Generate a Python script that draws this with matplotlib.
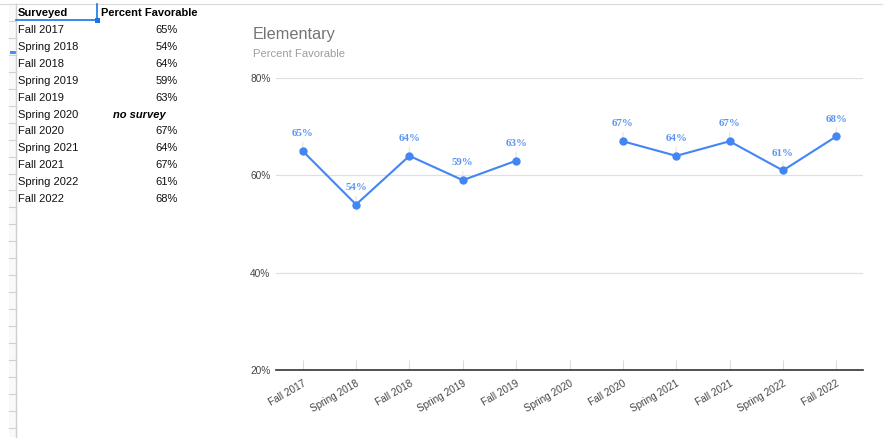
import numpy as np
import matplotlib.pyplot as plt
from matplotlib.lines import Line2D
from matplotlib.patches import Rectangle

# --- data ---
terms = ["Fall 2017", "Spring 2018", "Fall 2018", "Spring 2019", "Fall 2019",
         "Spring 2020", "Fall 2020", "Spring 2021", "Fall 2021", "Spring 2022", "Fall 2022"]
favorable = [0.65, 0.54, 0.64, 0.59, 0.63, np.nan, 0.67, 0.64, 0.67, 0.61, 0.68]
table_values = ["65%", "54%", "64%", "59%", "63%", "no survey", "67%", "64%", "67%", "61%", "68%"]
y_ticks = [0.2, 0.4, 0.6, 0.8]

W, H = 883, 444
fig = plt.figure(figsize=(W / 100, H / 100), dpi=100)
plt.rcParams['font.family'] = ['Liberation Sans', 'DejaVu Sans']


def fx(px):
    return px / W


def fy(py):
    return 1 - py / H


# --- spreadsheet part ---
fig.add_artist(Line2D([fx(0), fx(W)], [fy(4), fy(4)], color="#d9d9d9", lw=0.8))
fig.add_artist(Rectangle((fx(9), fy(437)), fx(7), (437 - 4) / H, color="#f8f9fa", lw=0))
fig.add_artist(Line2D([fx(16), fx(16)], [fy(4), fy(437)], color="#cfcfcf", lw=1))
for k in range(25):
    yy = 21 + 16.95 * k
    if yy > 437:
        break
    fig.add_artist(Line2D([fx(9), fx(16)], [fy(yy), fy(yy)], color="#d0d0d0", lw=0.8))
# selection marks
fig.add_artist(Line2D([fx(16), fx(97)], [fy(20.5), fy(20.5)], color="#1a73e8", lw=1.2))
fig.add_artist(Line2D([fx(97), fx(97)], [fy(4), fy(20.5)], color="#1a73e8", lw=1.2))
fig.add_artist(Rectangle((fx(95), fy(23)), fx(5), 5 / H, color="#1a73e8", lw=0))
fig.add_artist(Rectangle((fx(10), fy(54)), fx(6), 3 / H, color="#4a8af4", lw=0))

fs_table = 8.0
fig.text(fx(18), fy(13), "Surveyed", fontsize=fs_table, fontweight="bold", va="center", color="#000")
fig.text(fx(101), fy(13), "Percent Favorable", fontsize=fs_table, fontweight="bold", va="center", color="#000")
for i, (t, v) in enumerate(zip(terms, table_values)):
    yy = fy(30 + 16.9 * i)
    fig.text(fx(18), yy, t, fontsize=fs_table, va="center", color="#111")
    if v == "no survey":
        fig.text(fx(139), yy, v, fontsize=fs_table, va="center", ha="center",
                 fontweight="bold", fontstyle="italic", color="#000")
    else:
        fig.text(fx(178), yy, v, fontsize=fs_table, va="center", ha="right", color="#111")

# --- chart ---
fig.text(fx(253), fy(34), "Elementary", fontsize=11.7, color="#757575", va="center")
fig.text(fx(253), fy(54), "Percent Favorable", fontsize=8.1, color="#9e9e9e", va="center")

ax = fig.add_axes([fx(276), fy(370), (863 - 276) / W, (370 - 78) / H])
x = np.arange(len(terms))
ax.set_xlim(-0.5, len(terms) - 0.5)
ax.set_ylim(0.2, 0.8)
for g in y_ticks[1:]:
    ax.axhline(g, color="#e0e0e0", lw=0.9, zorder=0)

ax.plot(x, favorable, color="#4285f4", lw=1.5, marker="o", markersize=5, zorder=3)
for xi, v in zip(x, favorable):
    if np.isnan(v):
        continue
    ax.annotate(f"{v:.0%}", xy=(xi, v), xytext=(0, 12.5), textcoords="offset points",
                ha="center", va="center", fontsize=7.8, fontweight="bold",
                family="Liberation Serif", color="#5a95f5", zorder=2,
                arrowprops=dict(arrowstyle="-", color="#e3e3e3", lw=0.8, shrinkA=1, shrinkB=0))

for s in ["top", "right", "left"]:
    ax.spines[s].set_visible(False)
ax.spines["bottom"].set_color("#333333")
ax.spines["bottom"].set_linewidth(1.2)
ax.set_yticks(y_ticks)
ax.set_yticklabels([f"{t:.0%}" for t in y_ticks])
ax.tick_params(axis="y", length=0, pad=4, labelsize=7.3, labelcolor="#444444")
ax.set_xticks(x)
ax.set_xticklabels(terms, rotation=30, ha="right", rotation_mode="anchor")
ax.tick_params(axis="x", direction="in", length=7, width=0.8, color="#dddddd",
               pad=6, labelsize=7.2, labelcolor="#444444")

fig.savefig("out.png", dpi=100)
